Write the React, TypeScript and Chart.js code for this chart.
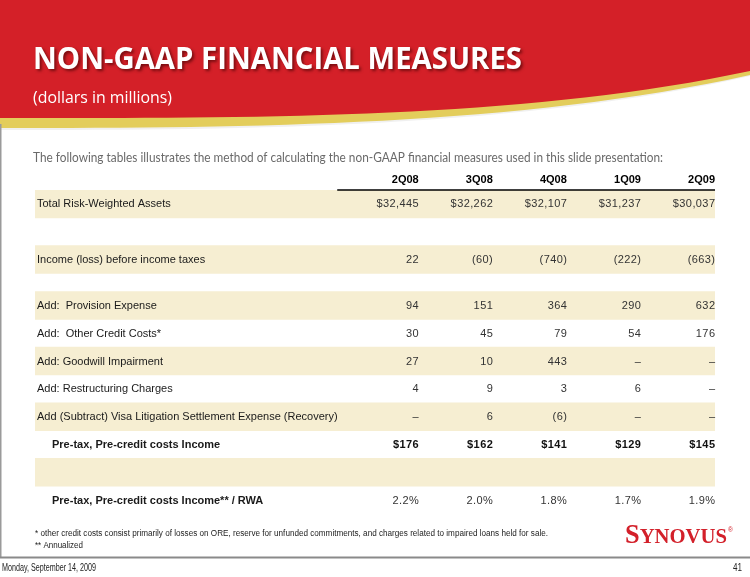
import React, { useEffect, useRef } from 'react';
import { Chart, registerables } from 'chart.js';

Chart.register(...registerables);

// ---------- data ----------
const quarters = ['2Q08', '3Q08', '4Q08', '1Q09', '2Q09'];
const totalRiskWeightedAssets = [32445, 32262, 32107, 31237, 30037];
const incomeBeforeTaxes = [22, -60, -740, -222, -663];
const provisionExpense = [94, 151, 364, 290, 632];
const otherCreditCosts = [30, 45, 79, 54, 176];
const goodwillImpairment: (number | null)[] = [27, 10, 443, null, null];
const restructuringCharges: (number | null)[] = [4, 9, 3, 6, null];
const visaLitigation: (number | null)[] = [null, 6, -6, null, null];
const preTaxPreCreditIncome = [176, 162, 141, 129, 145];
const preTaxIncomeToRwa = [2.2, 2.0, 1.8, 1.7, 1.9];

const rowLabels = [
  'Total Risk-Weighted Assets',
  'Income (loss) before income taxes',
  'Add:  Provision Expense',
  'Add:  Other Credit Costs*',
  'Add: Goodwill Impairment',
  'Add: Restructuring Charges',
  'Add (Subtract) Visa Litigation Settlement Expense (Recovery)',
  'Pre-tax, Pre-credit costs Income',
  'Pre-tax, Pre-credit costs Income** / RWA',
];

const titleText = 'NON-GAAP FINANCIAL MEASURES';
const subtitleText = '(dollars in millions)';
const introText =
  'The following tables illustrates the method of calculating the non-GAAP financial measures used in this slide presentation:';
const footnote1 =
  '* other credit costs consist primarily of losses on ORE, reserve for unfunded commitments, and charges related to impaired loans held for sale.';
const footnote2 = '** Annualized';
const dateText = 'Monday, September 14, 2009';
const pageText = '41';

// ---------- table structure ----------
type Fmt = 'usd' | 'num' | 'pct' | 'none';
interface RowSpec {
  label: string;
  values: (number | null)[] | null;
  fmt: Fmt;
  band: boolean;
  span: number;
  bold: boolean;
}

const rows: RowSpec[] = [
  { label: rowLabels[0], values: totalRiskWeightedAssets, fmt: 'usd', band: true, span: 1, bold: false },
  { label: '', values: null, fmt: 'none', band: false, span: 1, bold: false },
  { label: rowLabels[1], values: incomeBeforeTaxes, fmt: 'num', band: true, span: 1, bold: false },
  { label: '', values: null, fmt: 'none', band: false, span: 0.65, bold: false },
  { label: rowLabels[2], values: provisionExpense, fmt: 'num', band: true, span: 1, bold: false },
  { label: rowLabels[3], values: otherCreditCosts, fmt: 'num', band: false, span: 1, bold: false },
  { label: rowLabels[4], values: goodwillImpairment, fmt: 'num', band: true, span: 1, bold: false },
  { label: rowLabels[5], values: restructuringCharges, fmt: 'num', band: false, span: 1, bold: false },
  { label: rowLabels[6], values: visaLitigation, fmt: 'num', band: true, span: 1, bold: false },
  { label: rowLabels[7], values: preTaxPreCreditIncome, fmt: 'usd', band: false, span: 1, bold: true },
  { label: '', values: null, fmt: 'none', band: true, span: 1, bold: false },
  { label: rowLabels[8], values: preTaxIncomeToRwa, fmt: 'pct', band: false, span: 1, bold: true },
];

let acc = 0;
const layoutRows = rows.map((r) => {
  const start = acc;
  acc += r.span;
  return { ...r, start, end: acc, mid: start + r.span / 2 };
});
const totalUnits = acc;

const X_MIN = -5.18;
const BAND = '#F6EED2';
const RED = '#D42028';
const TABLE_FONT = '"Liberation Sans", Arial, sans-serif';

function fmtValue(v: number | null, fmt: Fmt): string {
  if (v === null || v === undefined) return '\u2013';
  if (fmt === 'usd') return '$' + v.toLocaleString('en-US');
  if (fmt === 'pct') return v.toFixed(1) + '%';
  if (v < 0) return '(' + Math.abs(v).toLocaleString('en-US') + ')';
  return v.toLocaleString('en-US');
}

function drawFitted(
  ctx: CanvasRenderingContext2D,
  text: string,
  x: number,
  y: number,
  targetW: number,
  size: number,
  family: string,
  weight: string,
  color: string,
  align: CanvasTextAlign = 'left'
) {
  ctx.save();
  ctx.font = `${weight} ${size}px ${family}`;
  const w = ctx.measureText(text).width;
  const sx = targetW / w;
  ctx.translate(x, y);
  ctx.scale(sx, 1);
  ctx.fillStyle = color;
  ctx.textAlign = align;
  ctx.textBaseline = 'alphabetic';
  ctx.fillText(text, 0, 0);
  ctx.restore();
}

const slidePlugin = {
  id: 'slideDecor',
  beforeDraw(chart: any) {
    const ctx: CanvasRenderingContext2D = chart.ctx;
    const W = chart.width;
    ctx.save();
    ctx.fillStyle = '#ffffff';
    ctx.fillRect(0, 0, W, chart.height);

    // soft shadow under swoosh
    ctx.beginPath();
    ctx.moveTo(0, 0);
    ctx.lineTo(0, 130);
    ctx.bezierCurveTo(250, 130, 520, 128, W, 76);
    ctx.lineTo(W, 0);
    ctx.closePath();
    ctx.fillStyle = 'rgba(170,170,170,0.18)';
    ctx.fill();

    // yellow stripe
    ctx.beginPath();
    ctx.moveTo(0, 0);
    ctx.lineTo(0, 128);
    ctx.bezierCurveTo(250, 128, 520, 126, W, 75);
    ctx.lineTo(W, 0);
    ctx.closePath();
    ctx.fillStyle = '#E3CD5B';
    ctx.fill();

    // red banner
    ctx.beginPath();
    ctx.moveTo(0, 0);
    ctx.lineTo(0, 118);
    ctx.bezierCurveTo(250, 118, 520, 120, W, 71);
    ctx.lineTo(W, 0);
    ctx.closePath();
    ctx.fillStyle = RED;
    ctx.fill();

    // title with drop shadow
    ctx.save();
    ctx.shadowColor = 'rgba(60,0,0,0.6)';
    ctx.shadowOffsetX = 2;
    ctx.shadowOffsetY = 2;
    ctx.shadowBlur = 3;
    drawFitted(ctx, titleText, 33, 69, 489, 31, '"Open Sans"', '700', '#ffffff');
    ctx.restore();
    drawFitted(ctx, subtitleText, 33, 103, 139, 16.5, '"Open Sans"', '400', '#ffffff');

    // intro sentence
    drawFitted(ctx, introText, 33, 162, 630, 12.5, 'Lato', '400', '#6a6a6a');

    // slide frame
    ctx.strokeStyle = '#9a9a9a';
    ctx.lineWidth = 1.5;
    ctx.beginPath();
    ctx.moveTo(0.75, 124);
    ctx.lineTo(0.75, 557);
    ctx.stroke();
    ctx.strokeStyle = '#8a8a8a';
    ctx.lineWidth = 2;
    ctx.beginPath();
    ctx.moveTo(0, 557.5);
    ctx.lineTo(W, 557.5);
    ctx.stroke();

    // footnotes
    drawFitted(ctx, footnote1, 35, 536, 513, 8.5, TABLE_FONT, '400', '#222222');
    drawFitted(ctx, footnote2, 35, 548, 48, 8.5, TABLE_FONT, '400', '#222222');

    // date / page
    drawFitted(ctx, dateText, 2, 571, 94, 10, TABLE_FONT, '400', '#222222');
    drawFitted(ctx, pageText, 742, 571, 9, 10, TABLE_FONT, '400', '#222222', 'right');

    // logo
    const serif = '"Liberation Serif", "Times New Roman", serif';
    ctx.font = `700 28px ${serif}`;
    const wS = ctx.measureText('S').width;
    ctx.font = `700 22px ${serif}`;
    const wRest = ctx.measureText('YNOVUS').width;
    const sx = 102 / (wS + wRest);
    ctx.save();
    ctx.translate(625, 543);
    ctx.scale(sx, 1);
    ctx.fillStyle = '#D3202A';
    ctx.textBaseline = 'alphabetic';
    ctx.font = `700 28px ${serif}`;
    ctx.fillText('S', 0, 0);
    ctx.font = `700 22px ${serif}`;
    ctx.fillText('YNOVUS', wS, 0);
    ctx.font = `400 7px ${TABLE_FONT}`;
    ctx.fillText('\u00AE', wS + wRest + 1, -11);
    ctx.restore();

    ctx.restore();
  },
  afterDatasetsDraw(chart: any) {
    const ctx: CanvasRenderingContext2D = chart.ctx;
    const xs = chart.scales.x;
    const ys = chart.scales.y;
    const area = chart.chartArea;
    ctx.save();

    // header rule
    ctx.strokeStyle = '#000000';
    ctx.lineWidth = 1.5;
    ctx.beginPath();
    ctx.moveTo(xs.getPixelForValue(-1.1), area.top);
    ctx.lineTo(area.right, area.top);
    ctx.stroke();

    ctx.textBaseline = 'middle';
    layoutRows.forEach((r) => {
      const y = ys.getPixelForValue(r.mid) + 0.5;
      if (r.label) {
        ctx.textAlign = 'left';
        (ctx as any).letterSpacing = '0px';
        ctx.font = `${r.bold ? '700' : '400'} 11px ${TABLE_FONT}`;
        ctx.fillStyle = '#1a1a1a';
        ctx.fillText(r.label, area.left + (r.bold ? 17 : 2), y);
      }
      if (r.values) {
        ctx.textAlign = 'right';
        const bold = r.bold && r.fmt === 'usd';
        (ctx as any).letterSpacing = '0.4px';
        ctx.font = `${bold ? '700' : '400'} 11px ${TABLE_FONT}`;
        ctx.fillStyle = bold ? '#111111' : '#333333';
        r.values.forEach((v, i) => {
          ctx.fillText(fmtValue(v, r.fmt), xs.getPixelForValue(i) + 0.4, y);
        });
      }
    });
    (ctx as any).letterSpacing = '0px';
    ctx.restore();
  },
};

export default function App() {
  const ref = useRef<HTMLCanvasElement>(null);

  useEffect(() => {
    if (!ref.current) return;
    const chart = new Chart(ref.current, {
      type: 'bar',
      data: {
        labels: ['band'],
        datasets: [
          {
            label: 'Row shading',
            data: layoutRows
              .filter((r) => r.band)
              .map((r) => ({ x: 'band', y: [r.start, r.end] })) as any,
            xAxisID: 'xb',
            yAxisID: 'y',
            backgroundColor: BAND,
            borderWidth: 0,
            barPercentage: 1,
            categoryPercentage: 1,
            grouped: false,
          } as any,
        ],
      },
      options: {
        responsive: false,
        maintainAspectRatio: false,
        animation: false,
        events: [],
        layout: { padding: { left: 35, right: 35, top: 164, bottom: 63 } },
        plugins: {
          legend: { display: false },
          tooltip: { enabled: false },
          title: { display: false },
        },
        scales: {
          x: {
            type: 'linear',
            position: 'top',
            offset: false,
            min: X_MIN,
            max: quarters.length - 1,
            bounds: 'data',
            grid: { display: false, drawTicks: false, offset: false },
            border: { display: false },
            afterBuildTicks: (s: any) => {
              s.ticks = quarters.map((_, i) => ({ value: i }));
            },
            afterFit: (s: any) => {
              s.height = 26;
            },
            ticks: {
              align: 'end',
              autoSkip: false,
              maxRotation: 0,
              minRotation: 0,
              padding: 3,
              color: '#000000',
              font: { family: TABLE_FONT, size: 11, weight: 'bold' },
              callback: (_v: any, i: number) => quarters[i],
            },
          } as any,
          xb: {
            type: 'category',
            labels: ['band'],
            display: false,
            offset: true,
          } as any,
          y: {
            type: 'linear',
            reverse: true,
            min: 0,
            max: totalUnits,
            bounds: 'data',
            display: false,
          } as any,
        },
      },
      plugins: [slidePlugin],
    });
    return () => chart.destroy();
  }, []);

  return (
    <div style={{ position: 'fixed', left: 0, top: 0, width: 750, height: 577, background: '#ffffff' }}>
      <canvas ref={ref} width={750} height={577} style={{ display: 'block', width: 750, height: 577 }} />
    </div>
  );
}
